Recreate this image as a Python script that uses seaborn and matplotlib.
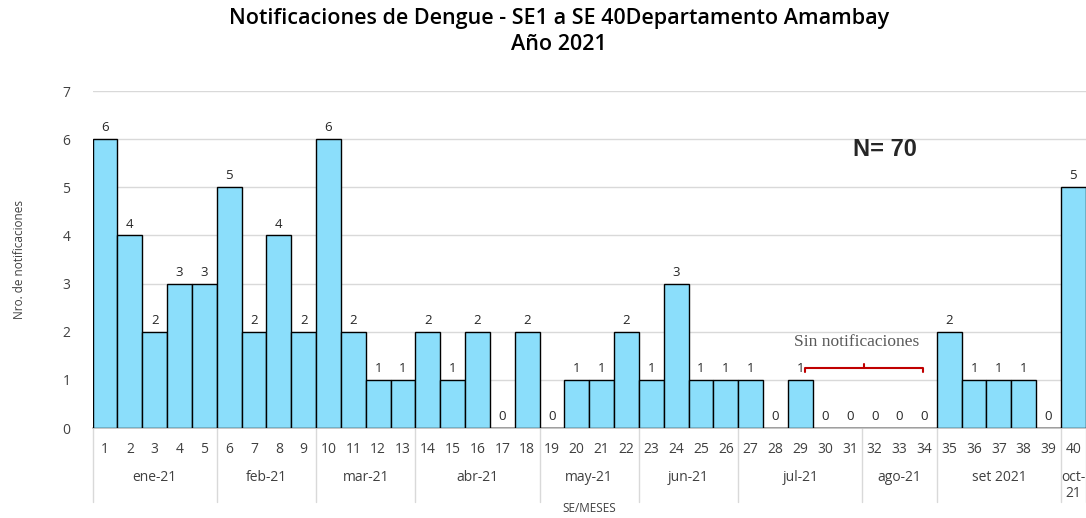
import matplotlib
matplotlib.use("Agg")
import matplotlib.pyplot as plt
import matplotlib.transforms as mtransforms
import seaborn as sns
import pandas as pd

weeks = [str(i) for i in range(1, 41)]
cases = [6, 4, 2, 3, 3, 5, 2, 4, 2, 6, 2, 1, 1, 2, 1, 2, 0, 2, 0, 1, 1, 2,
         1, 3, 1, 1, 1, 0, 1, 0, 0, 0, 0, 0, 2, 1, 1, 1, 0, 5]
months = ["ene-21", "feb-21", "mar-21", "abr-21", "may-21", "jun-21",
          "jul-21", "ago-21", "set 2021", "oct-\n21"]
weeks_per_month = [5, 4, 4, 5, 4, 4, 5, 3, 5, 1]
title = "Notificaciones de Dengue - SE1 a SE 40Departamento Amambay\nAño 2021"
total_label = "N= 70"
gap_label = "Sin notificaciones"
gap_weeks = ["29", "34"]

sns.set_theme(style="white")
plt.rcParams["font.family"] = ["Open Sans", "DejaVu Sans"]

df = pd.DataFrame({"SE": weeks, "n": cases})

fig = plt.figure(figsize=(10.86, 5.18), dpi=100)
ax = fig.add_axes([0.0853, 0.1737, 0.9145, 0.6506])

sns.barplot(data=df, x="SE", y="n", color="#8BDEFB", saturation=1,
            edgecolor="black", linewidth=1.0, width=1.0, ax=ax, zorder=3)

ax.set_ylim(0, 7)
ax.set_xlim(-0.5, len(weeks) - 0.5)
ax.set_yticks(range(0, 8))
ax.yaxis.grid(True, color="#D9D9D9", linewidth=1, zorder=0)
ax.set_axisbelow(True)
for s in ["left", "right", "top"]:
    ax.spines[s].set_visible(False)
ax.spines["bottom"].set_color("#BFBFBF")
ax.tick_params(axis="y", length=0, labelsize=10, colors="#404040", pad=16)
ax.tick_params(axis="x", length=0, labelsize=10, colors="#404040", pad=10)
ax.set_xlabel("")
ax.set_ylabel("Nro. de notificaciones", fontsize=8.5, color="#404040", labelpad=26)

# value labels
for i, v in enumerate(cases):
    ax.text(i, v + 0.1, str(v), ha="center", va="bottom", fontsize=9.5,
            color="#262626", zorder=5)

# month grouping
trans = mtransforms.blended_transform_factory(ax.transData, ax.transAxes)
start = 0
bounds = [start - 0.5]
for m, n in zip(months, weeks_per_month):
    end = start + n
    center = (start + end - 1) / 2
    ax.text(center, -0.125, m, transform=trans, ha="center", va="top",
            fontsize=10, color="#404040", linespacing=1.1)
    start = end
    bounds.append(end - 0.5)
for b in bounds:
    ax.plot([b, b], [0, -0.22], transform=trans, color="#D9D9D9",
            linewidth=1, clip_on=False)

fig.text(0.543, 0.006, "SE/MESES", ha="center", va="bottom",
         fontsize=8.5, color="#404040")

# title
fig.text(0.515, 0.985, title, ha="center", va="top", fontsize=15.5,
         fontweight="semibold", color="black", linespacing=1.3)

# N label
ax.text(31.4, 5.78, total_label, ha="center", va="center", fontsize=17,
        fontweight="bold", family=["Liberation Sans", "DejaVu Sans"])

# bracket for gap
x0 = weeks.index(gap_weeks[0]) + 0.2
x1 = weeks.index(gap_weeks[1]) - 0.05
yb = 1.25
ax.plot([x0, x0, x1, x1], [yb - 0.08, yb, yb, yb - 0.08], color="#C00000",
        linewidth=1.5, zorder=6)
xm = (x0 + x1) / 2
ax.plot([xm, xm], [yb, yb + 0.07], color="#C00000", linewidth=1.5, zorder=6)
ax.text(xm - 0.3, 1.79, gap_label, ha="center", va="center", fontsize=12.5,
        color="#595959", family=["Liberation Serif", "DejaVu Serif"])

fig.savefig("out.png", dpi=100)
